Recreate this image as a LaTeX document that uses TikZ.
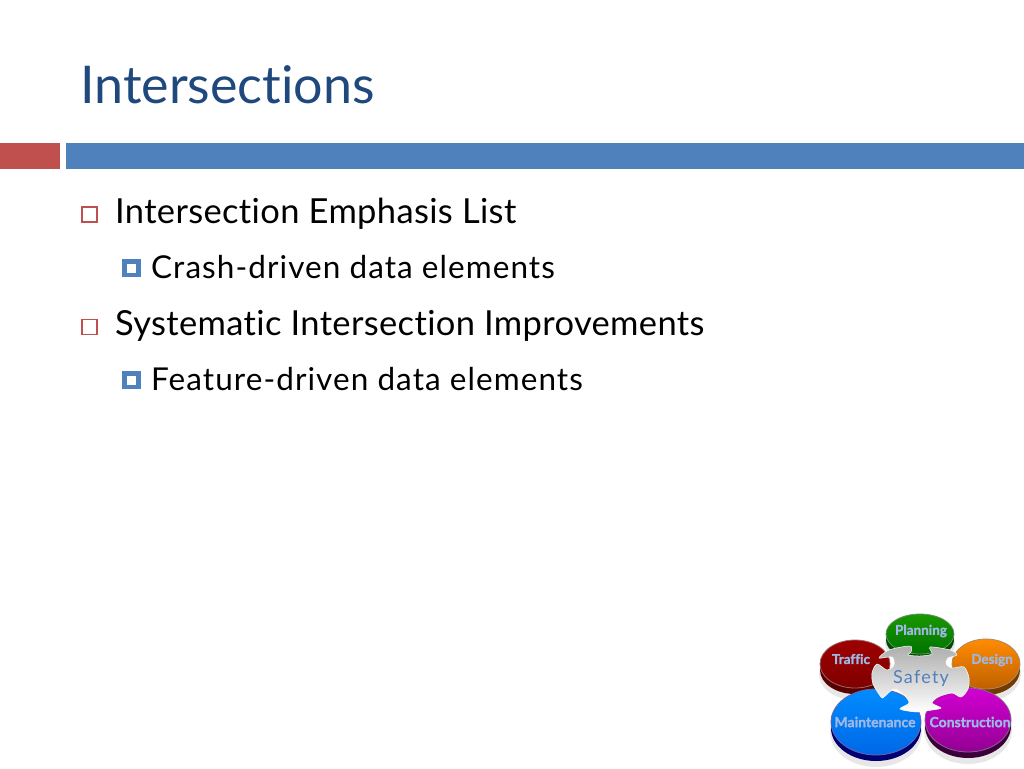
\documentclass[tikz,border=0pt]{standalone}
\usepackage{fontspec}
\setmainfont{Lato}[Ligatures={NoCommon,NoRare,NoContextual}]
\newfontfamily\lvlonefont[Ligatures={NoCommon,NoRare,NoContextual},LetterSpace=1.0]{Lato}
\newfontfamily\lvltwofont[Ligatures={NoCommon,NoRare,NoContextual},LetterSpace=3.4]{Lato}
\newfontfamily\badgefont[FakeBold=1.5,Ligatures={NoCommon,NoRare,NoContextual}]{Lato Bold}
\newfontfamily\safefont[LetterSpace=7,Ligatures={NoCommon,NoRare,NoContextual}]{Lato}
\usetikzlibrary{shadings}
\definecolor{titleblue}{HTML}{1F497D}
\definecolor{barblue}{HTML}{4F81BD}
\definecolor{barred}{HTML}{C0504D}
\definecolor{badge}{HTML}{9DB8E4}
\tikzset{
 x=1pt,y=-1pt,
 titletext/.style={anchor=base west,inner sep=0,font=\fontsize{52}{52}\selectfont,text=titleblue},
 lvlone/.style={anchor=base west,inner sep=0,font=\lvlonefont\fontsize{34.5}{34.5}\selectfont,text=black},
 lvltwo/.style={anchor=base west,inner sep=0,font=\lvltwofont\fontsize{31.5}{31.5}\selectfont,text=black},
 bulone/.style={draw=barred,line width=1.3pt,fill=white},
 bultwo/.style={draw=barblue,line width=4.5pt,fill=white},
 disclabel/.style={inner sep=0,font=\badgefont\fontsize{13.5}{13.5}\selectfont,text=badge},
}
% #1 centre x, #2 centre y, #3 rx, #4 ry, #5 dark, #6 mid, #7 light
\newcommand{\puzzledisc}[7]{%
 \fill[black!18,opacity=.5] (#1,#2+10) ellipse[x radius=#3+1,y radius=#4+2];
 \fill[#5] (#1,#2+6) ellipse[x radius=#3,y radius=#4];
 \shade[top color=#7,bottom color=#6,draw=#5!60!white,line width=.8pt] (#1,#2) ellipse[x radius=#3,y radius=#4];
}
\begin{document}
\begin{tikzpicture}
\useasboundingbox (0,0) rectangle (1024,768);
\fill[white] (0,0) rectangle (1024,768);
\node[titletext] (title) at (80,103) {Intersections};
\fill[barred] (0,143) rectangle (60,169);
\fill[barblue] (66,143) rectangle (1024,169);
\draw[bulone] (82,207) rectangle (97,222);
\node[lvlone] (a) at (115,223.5) {Intersection Emphasis List};
\draw[bultwo] (124.5,261.5) rectangle (138.5,275);
\node[lvltwo] (a1) at (151,278) {Crash-driven data elements};
\draw[bulone] (82,319.5) rectangle (97,334.5);
\node[lvlone] (b) at (115,335.5) {Systematic Intersection Improvements};
\draw[bultwo] (124.5,373.5) rectangle (138.5,387);
\node[lvltwo] (b1) at (151,390) {Feature-driven data elements};
% puzzle emblem
\puzzledisc{920}{634}{34}{20}{green!30!black}{green!45!black}{green!55!black!90!yellow}
\puzzledisc{855}{664}{35}{24}{red!35!black}{red!50!black}{red!62!black}
\puzzledisc{986}{664}{34}{25}{orange!45!black}{orange!75!black}{orange!90!yellow}
\puzzledisc{876}{722}{45}{33}{blue!45!black}{blue!55!cyan!90!black}{cyan!55!blue}
\puzzledisc{968}{720}{43}{32}{violet!45!black}{violet!85!magenta}{magenta!65!violet}
\shade[top color=black!32,bottom color=white,draw=white,line width=.5pt]
 plot[smooth cycle,tension=.5] coordinates {
 (889,650) (910,646) (911,652) (908,655) (920,656) (932,654) (930,647) (950,650)
 (957,655) (948,658) (946,664) (952,668) (964,667) (969,678) (968,689) (961,697)
 (952,693) (938,697) (932,703) (941,708) (932,710) (917,712) (900,709) (909,703)
 (904,695) (894,689) (884,697) (881,697) (873,684) (872,673) (877,664) (887,670)
 (894,665) (892,657) (879,658)};
\node[disclabel] (plan) at (921,631) {Planning};
\node[disclabel] (traf) at (851,659) {Traffic};
\node[disclabel] (des) at (992,660) {Design};
\node[disclabel,font=\badgefont\fontsize{14}{14}\selectfont] (maint) at (875,722) {Maintenance};
\node[disclabel,font=\badgefont\fontsize{14}{14}\selectfont] (cons) at (970,722) {Construction};
\node[inner sep=0,font=\safefont\fontsize{18}{18}\selectfont,text=barblue] (safe) at (921,678) {Safety};
\end{tikzpicture}
\end{document}
